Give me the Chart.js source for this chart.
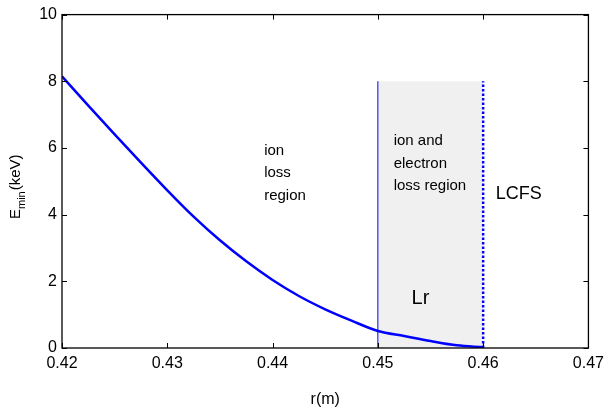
<!DOCTYPE html>
<html>
<head>
<meta charset="utf-8">
<script src="https://cdn.jsdelivr.net/npm/chart.js@4.4.1/dist/chart.umd.min.js"></script>
<style>
  html, body { margin: 0; padding: 0; background: #fff; }
  #wrap { width: 610px; height: 413px; }
</style>
</head>
<body>
<div id="wrap"><canvas id="c" width="610" height="413"></canvas></div>
<script>
// curve: E_min vs r
const rVals = [0.42, 0.4225, 0.425, 0.4275, 0.43, 0.4325, 0.435, 0.4375, 0.44, 0.4425, 0.445, 0.4475, 0.45, 0.4525, 0.455, 0.4575, 0.46];
const eVals = [8.15, 7.27, 6.41, 5.56, 4.73, 3.94, 3.23, 2.60, 2.04, 1.56, 1.16, 0.82, 0.51, 0.36, 0.21, 0.08, 0.02];

// shaded region Lr and boundaries
const regionX = [0.45, 0.46];
const regionTop = 8;

const xTicks = [0.42, 0.43, 0.44, 0.45, 0.46, 0.47];
const yTicks = [0, 2, 4, 6, 8, 10];

const FONT = "'Liberation Sans', Arial, Helvetica, sans-serif";

const curve = rVals.map((r, i) => ({ x: r, y: eVals[i] }));

// text annotations placed in data coordinates
const notes = [
    { x: 0.4392, y: 5.92, lines: ['ion', 'loss', 'region'], size: 15 },
    { x: 0.4515, y: 6.20, lines: ['ion and', 'electron', 'loss region'], size: 15 },
    { x: 0.4612, y: 4.63, lines: ['LCFS'], size: 18 },
    { x: 0.4532, y: 1.50, lines: ['Lr'], size: 20 }
];

const framePlugin = {
    id: 'frame',
    afterDraw(chart) {
        const { ctx, chartArea: a, scales } = chart;
        const xs = scales.x, ys = scales.y;
        ctx.save();
        ctx.strokeStyle = '#000';
        ctx.lineWidth = 1;
        ctx.beginPath();
        xTicks.forEach(v => {
            const px = Math.round(xs.getPixelForValue(v)) + 0.5;
            ctx.moveTo(px, a.bottom); ctx.lineTo(px, a.bottom - 5);
            ctx.moveTo(px, a.top); ctx.lineTo(px, a.top + 5);
        });
        yTicks.forEach(v => {
            const py = Math.round(ys.getPixelForValue(v)) + 0.5;
            ctx.moveTo(a.left, py); ctx.lineTo(a.left + 5, py);
            ctx.moveTo(a.right, py); ctx.lineTo(a.right - 5, py);
        });
        ctx.stroke();
        ctx.lineWidth = 1.3;
        ctx.strokeRect(a.left, a.top, a.right - a.left, a.bottom - a.top);

        // annotations
        ctx.fillStyle = '#000';
        ctx.textBaseline = 'middle';
        ctx.textAlign = 'left';
        notes.forEach(n => {
            ctx.font = n.size + 'px ' + FONT;
            const px = xs.getPixelForValue(n.x);
            const py = ys.getPixelForValue(n.y);
            n.lines.forEach((t, i) => ctx.fillText(t, px, py + i * 22.5));
        });

        // y axis title: E_min (keV)
        ctx.translate(20, 219);
        ctx.rotate(-Math.PI / 2);
        ctx.textBaseline = 'alphabetic';
        ctx.font = '15px ' + FONT;
        ctx.fillText('E', 0, 0);
        let w = ctx.measureText('E').width;
        ctx.font = '11px ' + FONT;
        ctx.fillText('min', w, 5);
        w += ctx.measureText('min').width + 1;
        ctx.font = '15px ' + FONT;
        ctx.fillText('(keV)', w, 0);
        ctx.restore();
    }
};

new Chart(document.getElementById('c'), {
    type: 'scatter',
    data: {
        datasets: [{
            // curve
            data: curve,
            showLine: true,
            borderColor: '#0000ff',
            borderWidth: 2.5,
            pointRadius: 0,
            cubicInterpolationMode: 'monotone',
            order: 1
        }, {
            // shaded box
            data: [{ x: regionX[0], y: regionTop }, { x: regionX[1], y: regionTop }],
            showLine: true,
            fill: 'origin',
            backgroundColor: '#f0f0f0',
            borderWidth: 0,
            pointRadius: 0,
            order: 5
        }, {
            data: [{ x: regionX[0], y: 0 }, { x: regionX[0], y: regionTop }],
            showLine: true,
            borderColor: '#0000ff',
            borderWidth: 1,
            pointRadius: 0,
            order: 3
        }, {
            data: [{ x: regionX[1], y: 0 }, { x: regionX[1], y: regionTop }],
            showLine: true,
            borderColor: '#0000ff',
            borderWidth: 2.5,
            borderDash: [2.5, 2],
            pointRadius: 0,
            order: 2
        }]
    },
    options: {
        responsive: false,
        animation: false,
        layout: { padding: { top: 10, right: 20, left: 0, bottom: 0 } },
        plugins: {
            legend: { display: false },
            tooltip: { enabled: false }
        },
        scales: {
            x: {
                type: 'linear',
                min: 0.42, max: 0.47,
                afterBuildTicks: s => { s.ticks = xTicks.map(v => ({ value: v })); },
                afterFit: s => { s.height = 65; },
                grid: { display: false, drawTicks: false },
                border: { display: false },
                ticks: {
                    color: '#000',
                    padding: 6,
                    font: { family: FONT, size: 16 },
                    callback: v => v.toFixed(2)
                },
                title: {
                    display: true,
                    text: 'r(m)',
                    color: '#000',
                    font: { family: FONT, size: 16 },
                    padding: { top: 12 }
                }
            },
            y: {
                type: 'linear',
                min: 0, max: 10,
                afterBuildTicks: s => { s.ticks = yTicks.map(v => ({ value: v })); },
                afterFit: s => { s.width = 62; },
                grid: { display: false, drawTicks: false },
                border: { display: false },
                ticks: {
                    color: '#000',
                    padding: 5,
                    font: { family: FONT, size: 16 }
                }
            }
        }
    },
    plugins: [framePlugin]
});
</script>
</body>
</html>
